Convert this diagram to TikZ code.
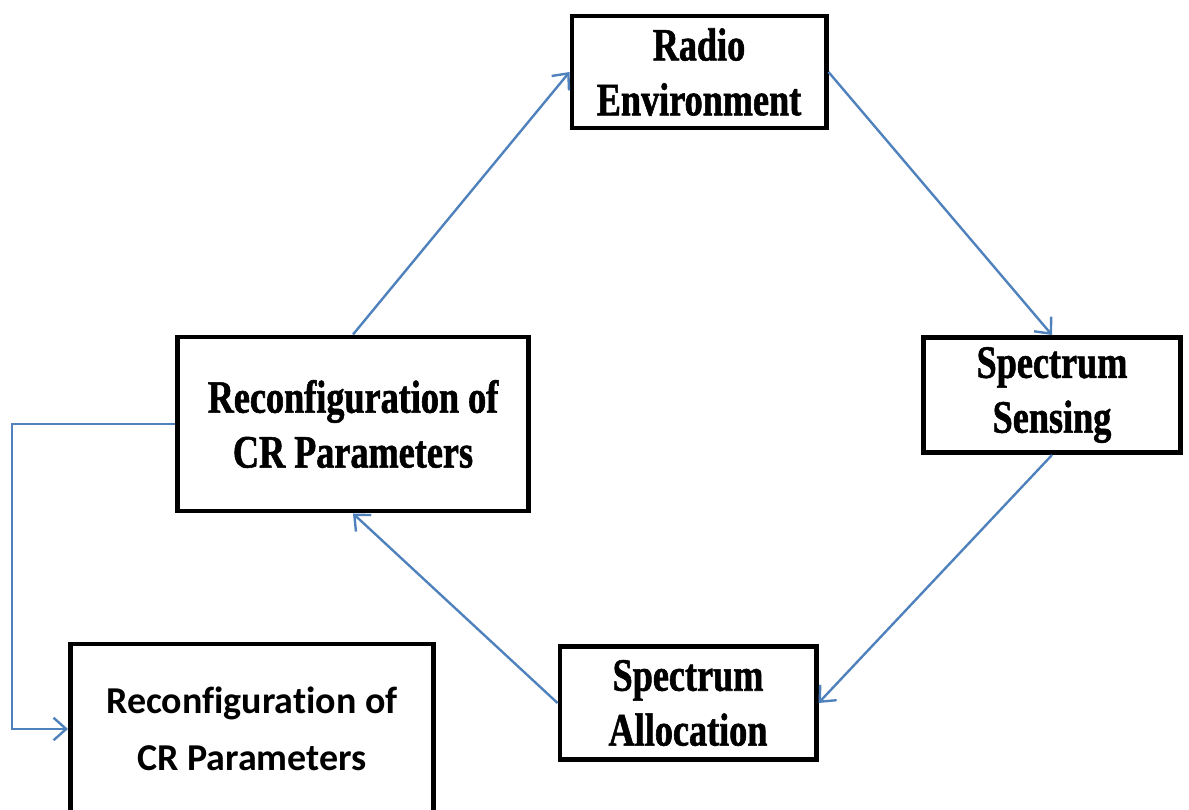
\documentclass[tikz,border=0pt]{standalone}
\usepackage{fontspec}
\usepackage{tikz}
\usetikzlibrary{arrows.meta, positioning}
\newfontfamily\serifbox{Liberation Serif}[FakeStretch=0.78, BoldFeatures={FakeBold=1.2}]
\newfontfamily\sansbox{Carlito}[Ligatures=NoCommon]
\definecolor{flowblue}{RGB}{79,129,189}

\begin{document}
\begin{tikzpicture}[x=0.025cm, y=-0.025cm,
    stage/.style={draw, line width=3.5pt, align=center, inner sep=0pt,
        font=\serifbox\bfseries\fontsize{33}{39}\selectfont},
    flow/.style={draw=flowblue, line width=1.7pt,
        -{Straight Barb[length=9pt, width=16pt, line width=1.7pt]}}]
    \useasboundingbox (0,0) rectangle (1189,809);

    % Radio Environment
    \node[stage, minimum width=6.35cm, minimum height=2.8cm] (radio) at (699,72) {Radio\\Environment};
    % Spectrum Sensing
    \node[stage, minimum width=6.425cm, minimum height=2.875cm] (sensing) at (1052,395) {Spectrum\\Sensing};
    % Spectrum Allocation
    \node[stage, minimum width=6.4cm, minimum height=2.825cm] (alloc) at (688,703) {Spectrum\\Allocation};
    % Reconfiguration (middle)
    \node[stage, minimum width=8.75cm, minimum height=4.35cm] (reconf) at (353,424) {Reconfiguration of\\CR Parameters};
    % Reconfiguration (bottom)
    \node[stage, font=\sansbox\bfseries\fontsize{27}{40.5}\selectfont,
        minimum width=9.075cm, minimum height=4.25cm] (recbot) at (252,729) {Reconfiguration of\\CR Parameters};

    % the cycle
    \draw[flow] (reconf.north) -- (radio.west);
    \draw[flow] (radio.east) -- (sensing.north);
    \draw[flow] (sensing.south) -- (alloc.east);
    \draw[flow] (alloc.west) -- (reconf.south);

    % side line down to the bottom box
    \coordinate (bend) at (12,424);
    \draw[flow] (reconf.west) -- (bend) |- (recbot.west);
\end{tikzpicture}
\end{document}
